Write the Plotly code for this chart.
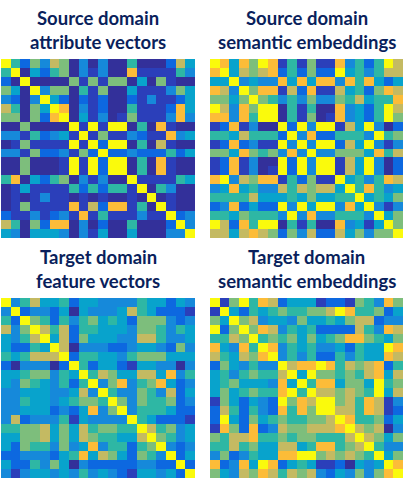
import plotly.graph_objects as go

title_lines = [("Source domain", "attribute vectors"), ("Source domain", "semantic embeddings"),
               ("Target domain", "feature vectors"), ("Target domain", "semantic embeddings")]

# parula, one colour per level
levels = ["#33309a", "#2b3fba", "#0d68e0", "#1689da", "#08a3cc",
          "#2eb7a4", "#7dbe7c", "#c4ba62", "#fcbc38", "#fafa0c"]

source_attr = [
    [9, 5, 2, 6, 3, 7, 6, 0, 3, 0, 3, 0, 0, 5, 0, 0, 0, 2, 7, 4],
    [5, 9, 0, 4, 2, 5, 6, 0, 3, 1, 3, 0, 0, 8, 1, 1, 1, 1, 5, 3],
    [2, 0, 9, 0, 0, 0, 0, 6, 1, 6, 1, 6, 6, 0, 4, 0, 6, 1, 0, 0],
    [6, 4, 0, 9, 3, 6, 6, 0, 5, 1, 6, 0, 0, 4, 1, 1, 1, 3, 6, 4],
    [3, 2, 0, 3, 9, 4, 2, 0, 2, 1, 2, 0, 0, 2, 1, 3, 1, 1, 2, 4],
    [7, 5, 0, 6, 4, 9, 8, 0, 3, 1, 2, 0, 0, 5, 1, 1, 1, 2, 8, 4],
    [6, 6, 0, 6, 2, 8, 9, 0, 4, 1, 3, 0, 1, 6, 1, 1, 1, 3, 8, 3],
    [0, 0, 6, 0, 0, 0, 0, 9, 1, 9, 1, 9, 9, 0, 5, 0, 8, 1, 0, 0],
    [3, 3, 1, 5, 2, 3, 4, 1, 9, 1, 6, 1, 1, 3, 2, 1, 1, 8, 3, 4],
    [0, 1, 6, 1, 1, 1, 1, 9, 1, 9, 2, 9, 9, 0, 5, 0, 7, 1, 0, 0],
    [3, 3, 1, 6, 2, 2, 3, 1, 6, 2, 9, 2, 2, 3, 2, 2, 2, 5, 2, 4],
    [0, 0, 6, 0, 0, 0, 1, 9, 1, 9, 2, 9, 9, 0, 5, 0, 8, 1, 0, 0],
    [0, 0, 6, 0, 0, 0, 1, 9, 1, 9, 2, 9, 9, 0, 5, 0, 8, 1, 0, 0],
    [5, 8, 0, 4, 2, 5, 6, 0, 3, 1, 3, 0, 0, 9, 1, 1, 1, 1, 5, 4],
    [0, 1, 4, 1, 1, 1, 1, 5, 2, 5, 2, 5, 5, 1, 9, 0, 5, 3, 0, 0],
    [0, 1, 0, 1, 3, 1, 1, 0, 1, 0, 1, 0, 0, 1, 0, 9, 0, 1, 0, 0],
    [0, 1, 6, 1, 1, 1, 1, 8, 1, 7, 2, 8, 8, 1, 5, 0, 9, 1, 0, 0],
    [2, 1, 1, 3, 1, 2, 3, 1, 8, 1, 5, 1, 1, 1, 3, 1, 1, 9, 2, 3],
    [7, 5, 0, 6, 2, 8, 8, 0, 3, 0, 2, 0, 0, 5, 0, 0, 0, 2, 9, 3],
    [4, 3, 0, 4, 4, 4, 3, 0, 3, 1, 4, 0, 0, 4, 0, 0, 0, 3, 3, 9],
]

source_sem = [
    [9, 8, 4, 8, 6, 9, 8, 1, 5, 1, 6, 1, 1, 8, 3, 5, 2, 5, 9, 7],
    [8, 9, 4, 7, 6, 7, 8, 2, 5, 2, 6, 2, 2, 9, 4, 5, 3, 5, 7, 7],
    [4, 4, 9, 3, 4, 3, 3, 8, 4, 8, 4, 8, 8, 3, 8, 5, 8, 4, 2, 4],
    [8, 7, 3, 9, 6, 8, 8, 1, 7, 2, 8, 1, 1, 7, 4, 5, 2, 6, 8, 7],
    [6, 6, 4, 6, 9, 6, 5, 3, 5, 3, 6, 3, 3, 6, 5, 7, 4, 5, 5, 8],
    [9, 7, 3, 8, 6, 9, 9, 0, 5, 1, 5, 0, 0, 8, 3, 4, 2, 5, 9, 7],
    [8, 8, 3, 8, 5, 9, 9, 0, 5, 1, 6, 0, 1, 8, 3, 4, 2, 5, 9, 6],
    [1, 2, 8, 1, 3, 0, 0, 9, 2, 9, 3, 9, 9, 1, 7, 4, 9, 3, 0, 2],
    [5, 5, 4, 7, 5, 5, 5, 2, 9, 3, 8, 2, 2, 5, 5, 5, 3, 9, 5, 6],
    [1, 2, 8, 2, 3, 1, 1, 9, 3, 9, 3, 9, 9, 2, 7, 4, 9, 3, 1, 3],
    [6, 6, 4, 8, 6, 5, 6, 3, 8, 3, 9, 3, 3, 6, 6, 6, 4, 8, 5, 7],
    [1, 2, 8, 1, 3, 0, 0, 9, 2, 9, 3, 9, 9, 1, 7, 4, 9, 3, 0, 2],
    [1, 2, 8, 1, 3, 0, 1, 9, 2, 9, 3, 9, 9, 1, 7, 4, 9, 3, 0, 2],
    [8, 9, 3, 7, 6, 8, 8, 1, 5, 2, 6, 1, 1, 9, 4, 5, 3, 5, 8, 7],
    [3, 4, 8, 4, 5, 3, 3, 7, 5, 7, 6, 7, 7, 4, 9, 5, 8, 5, 3, 4],
    [5, 5, 5, 5, 7, 4, 4, 4, 5, 4, 6, 4, 4, 5, 5, 9, 4, 5, 4, 6],
    [2, 3, 8, 2, 4, 2, 2, 9, 3, 9, 4, 9, 9, 3, 8, 4, 9, 3, 1, 3],
    [5, 5, 4, 6, 5, 5, 5, 3, 9, 3, 8, 3, 3, 5, 5, 5, 3, 9, 4, 6],
    [9, 7, 2, 8, 5, 9, 9, 0, 5, 1, 5, 0, 0, 8, 3, 4, 1, 4, 9, 6],
    [7, 7, 4, 7, 8, 7, 6, 2, 6, 3, 7, 2, 2, 7, 4, 6, 3, 6, 6, 9],
]

target_feat = [
    [9, 3, 5, 7, 4, 4, 5, 2, 4, 4, 3, 3, 3, 3, 5, 4, 4, 2, 4, 3],
    [3, 9, 2, 3, 3, 2, 4, 0, 4, 3, 3, 3, 4, 7, 5, 4, 2, 2, 2, 1],
    [5, 2, 9, 6, 5, 2, 5, 3, 5, 6, 4, 5, 4, 2, 6, 6, 6, 3, 2, 3],
    [7, 3, 6, 9, 7, 5, 7, 2, 5, 5, 4, 4, 4, 3, 6, 6, 5, 3, 5, 4],
    [4, 3, 5, 7, 9, 4, 7, 2, 6, 4, 4, 4, 3, 3, 7, 7, 5, 3, 3, 4],
    [4, 2, 2, 5, 4, 9, 7, 0, 3, 3, 3, 2, 2, 3, 4, 4, 3, 2, 6, 3],
    [5, 4, 5, 7, 7, 7, 9, 2, 5, 5, 4, 4, 3, 5, 6, 6, 6, 4, 4, 4],
    [2, 0, 3, 3, 3, 0, 2, 9, 5, 2, 4, 4, 2, 1, 4, 4, 3, 3, 0, 3],
    [4, 4, 5, 6, 6, 3, 5, 4, 9, 5, 7, 6, 4, 4, 7, 7, 4, 8, 3, 5],
    [4, 3, 6, 5, 4, 3, 5, 2, 5, 9, 3, 6, 8, 3, 5, 6, 8, 4, 2, 3],
    [3, 3, 4, 4, 4, 3, 3, 4, 7, 3, 9, 5, 3, 3, 6, 5, 3, 7, 2, 4],
    [3, 3, 5, 4, 4, 3, 4, 5, 6, 6, 5, 9, 6, 3, 6, 5, 5, 6, 2, 3],
    [3, 3, 4, 4, 4, 2, 3, 2, 4, 8, 3, 6, 9, 3, 5, 5, 5, 4, 2, 2],
    [3, 7, 2, 3, 3, 3, 5, 1, 4, 3, 3, 3, 3, 9, 5, 4, 2, 2, 2, 1],
    [5, 5, 6, 6, 7, 4, 6, 4, 7, 5, 6, 6, 5, 5, 9, 7, 5, 6, 3, 4],
    [4, 4, 6, 6, 7, 4, 6, 4, 7, 6, 5, 5, 4, 4, 7, 9, 6, 5, 3, 4],
    [4, 2, 6, 5, 5, 3, 6, 3, 4, 8, 3, 5, 5, 2, 5, 6, 9, 3, 2, 3],
    [2, 2, 3, 3, 3, 2, 4, 5, 8, 4, 7, 6, 4, 2, 6, 5, 3, 9, 2, 4],
    [4, 2, 2, 5, 3, 6, 4, 0, 3, 2, 2, 2, 2, 2, 3, 3, 2, 2, 9, 2],
    [3, 1, 3, 4, 4, 3, 4, 3, 5, 3, 4, 3, 2, 1, 4, 4, 3, 4, 2, 9],
]

target_sem = [
    [9, 1, 6, 9, 5, 8, 7, 2, 4, 4, 4, 1, 2, 2, 1, 6, 5, 3, 8, 6],
    [1, 9, 4, 2, 5, 4, 5, 6, 5, 5, 6, 6, 7, 9, 8, 5, 5, 6, 2, 4],
    [6, 4, 9, 6, 7, 3, 4, 4, 3, 6, 4, 4, 5, 4, 6, 7, 7, 2, 3, 3],
    [9, 2, 6, 9, 6, 8, 7, 3, 5, 4, 5, 2, 2, 2, 2, 7, 5, 3, 8, 7],
    [5, 5, 7, 6, 9, 5, 6, 5, 6, 4, 6, 4, 5, 6, 8, 8, 6, 5, 4, 6],
    [8, 4, 3, 8, 5, 9, 8, 3, 5, 4, 5, 3, 3, 4, 2, 5, 4, 4, 9, 8],
    [7, 5, 4, 7, 6, 8, 9, 3, 5, 3, 5, 2, 2, 5, 3, 5, 4, 4, 8, 7],
    [2, 6, 4, 3, 5, 3, 3, 9, 7, 8, 8, 9, 8, 5, 7, 6, 7, 8, 2, 5],
    [4, 5, 3, 5, 6, 5, 5, 7, 9, 4, 9, 6, 6, 5, 6, 5, 7, 8, 4, 7],
    [4, 5, 6, 4, 4, 4, 3, 8, 4, 9, 5, 8, 8, 4, 6, 6, 4, 9, 5, 6],
    [4, 6, 4, 5, 6, 5, 5, 8, 9, 5, 9, 7, 7, 6, 7, 6, 5, 9, 4, 7],
    [1, 6, 4, 2, 4, 3, 2, 9, 6, 8, 7, 9, 9, 6, 7, 5, 8, 7, 1, 3],
    [2, 7, 5, 2, 5, 3, 2, 8, 5, 8, 6, 9, 9, 7, 7, 5, 8, 7, 1, 2],
    [2, 9, 4, 2, 6, 4, 5, 6, 5, 5, 6, 6, 7, 9, 8, 5, 5, 6, 2, 4],
    [1, 8, 6, 2, 8, 2, 3, 7, 6, 6, 7, 7, 7, 8, 9, 7, 6, 7, 0, 3],
    [6, 5, 7, 7, 8, 5, 5, 6, 5, 6, 6, 5, 5, 5, 7, 9, 7, 6, 4, 6],
    [5, 5, 7, 5, 6, 4, 4, 7, 7, 4, 5, 8, 8, 5, 6, 7, 9, 5, 3, 3],
    [3, 6, 2, 3, 5, 4, 4, 8, 8, 9, 9, 6, 7, 6, 7, 6, 5, 9, 4, 6],
    [8, 2, 3, 8, 4, 9, 8, 2, 4, 5, 4, 1, 1, 2, 0, 4, 3, 4, 9, 8],
    [6, 4, 3, 7, 6, 8, 7, 5, 7, 6, 7, 3, 2, 4, 3, 6, 3, 6, 8, 9],
]

W, H = 408, 479
scale = [[i / 9, c] for i, c in enumerate(levels)]
# left, right, top, bottom of each panel in window pixels
panels = [(1, 195, 59, 238), (210, 403, 59, 238), (1, 195, 298, 478), (210, 403, 298, 478)]
matrices = [source_attr, source_sem, target_feat, target_sem]

fig = go.Figure()
layout = {}
for i, (m, p) in enumerate(zip(matrices, panels), start=1):
    left, right, top, bottom = p
    fig.add_trace(go.Heatmap(z=m, colorscale=scale, zmin=0, zmax=9, showscale=False,
                             xaxis=f"x{i}", yaxis=f"y{i}"))
    layout[f"xaxis{i}"] = dict(domain=[left / W, right / W], visible=False)
    layout[f"yaxis{i}"] = dict(domain=[1 - bottom / H, 1 - top / H], visible=False, autorange="reversed")
    # the two title lines sit 24px apart, more than plotly's own line height
    for line, up in zip(title_lines[i - 1], (41, 17)):
        fig.add_annotation(text=line, xref="paper", yref="paper", x=(left + right) / 2 / W,
                           y=1 - (top - up) / H, xanchor="center", yanchor="middle", showarrow=False,
                           font=dict(family="Lato", size=18.5, color="#0a1f5c", weight="bold"))

fig.update_layout(width=W, height=H, margin=dict(l=0, r=0, t=0, b=0),
                  paper_bgcolor="white", plot_bgcolor="white", **layout)
fig.write_html("out.html", config={"displayModeBar": False},
               post_script="document.body.style.margin='0';")
